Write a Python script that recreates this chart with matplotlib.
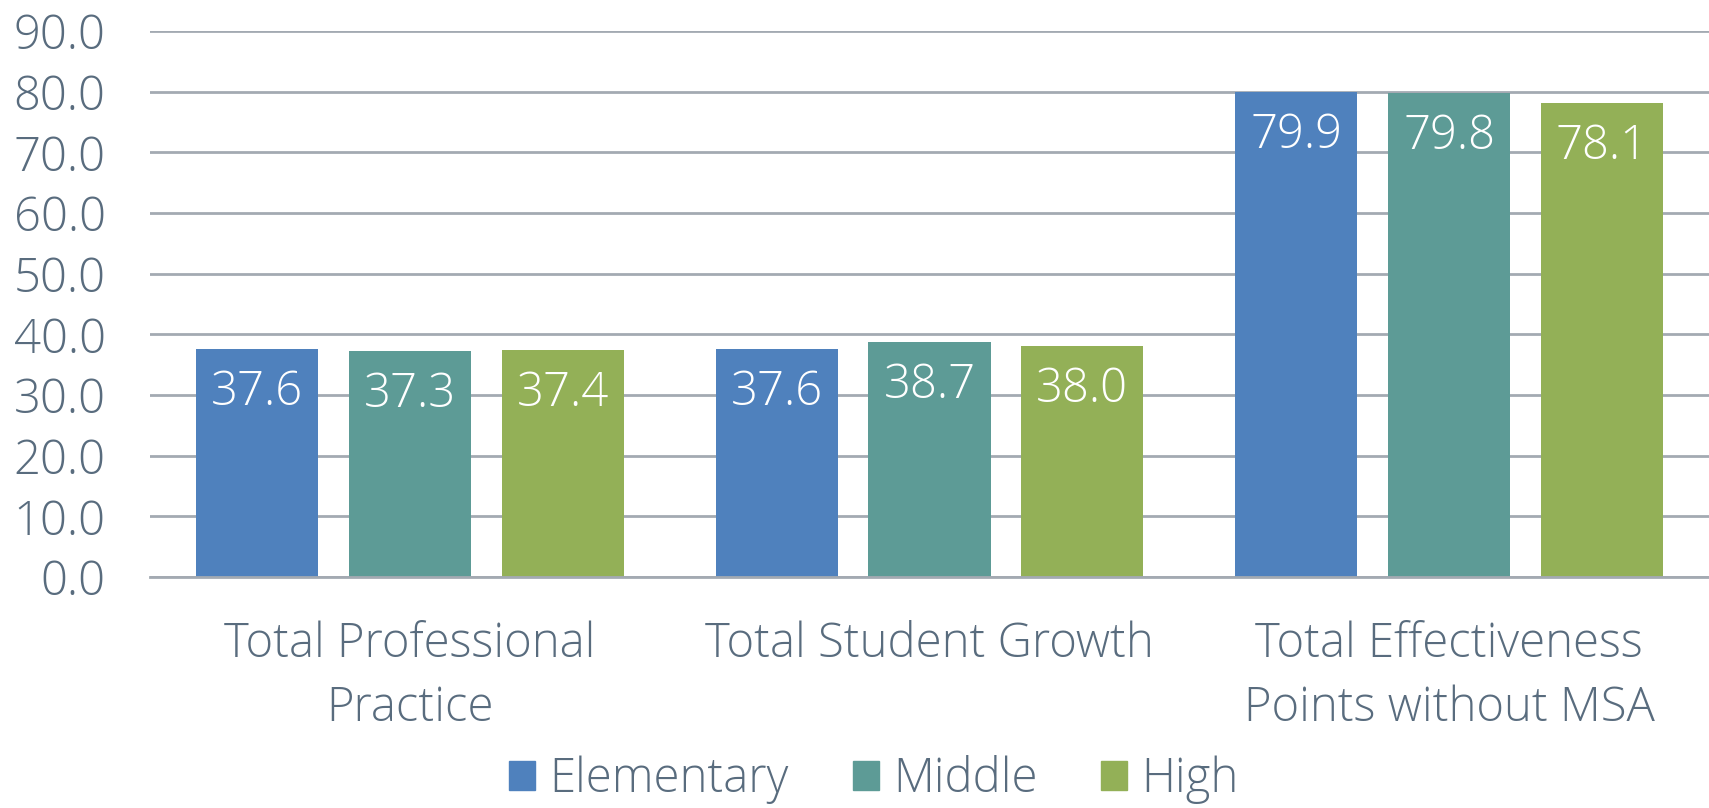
import matplotlib
matplotlib.use("Agg")
import matplotlib.pyplot as plt
import matplotlib.patches as patches
import numpy as np

categories = ["Total Professional\nPractice", "Total Student Growth",
              "Total Effectiveness\nPoints without MSA"]
series_names = ["Elementary", "Middle", "High"]
elementary = [37.6, 37.6, 79.9]
middle = [37.3, 38.7, 79.8]
high = [37.4, 38.0, 78.1]
y_ticks = [0, 10, 20, 30, 40, 50, 60, 70, 80, 90]

colors = ["#4F81BD", "#5D9B96", "#93B057"]
text_color = "#596C7E"
grid_color = "#A3AAB2"

plt.rcParams['font.family'] = ['Open Sans', 'DejaVu Sans']
plt.rcParams['font.weight'] = 'light'

fig = plt.figure(figsize=(17.09, 8.08), dpi=100)
ax = fig.add_axes([150/1709, 1 - 577/808, 1 - 150/1709, (577 - 31)/808])

x = np.arange(len(categories))
bar_w = 0.235
step = 0.294
for i, (name, vals) in enumerate(zip(series_names, [elementary, middle, high])):
    bars = ax.bar(x + (i - 1) * step, vals, width=bar_w, color=colors[i],
                  label=name, zorder=3)
    for b, v in zip(bars, vals):
        ax.annotate(f"{v:.1f}", (b.get_x() + b.get_width() / 2, v),
                    xytext=(0, -31.5), textcoords="offset points",
                    ha="center", va="center", color="white", fontsize=34,
                    zorder=4)

ax.set_xlim(-0.5, 2.5)
ax.set_ylim(0, 90)
ax.set_yticks(y_ticks)
ax.set_yticklabels([f"{t:.1f}" for t in y_ticks])
ax.set_xticks(x)
ax.set_xticklabels(categories, linespacing=1.44)
ax.tick_params(axis="y", length=0, pad=32, labelsize=34, labelcolor=text_color)
ax.tick_params(axis="x", length=0, pad=31, labelsize=34, labelcolor=text_color)

ax.grid(axis="y", color=grid_color, linewidth=2, zorder=0)
for side in ["top", "right", "left"]:
    ax.spines[side].set_visible(False)
ax.spines["bottom"].set_color(grid_color)
ax.spines["bottom"].set_linewidth(2)
ax.spines["bottom"].set_zorder(5)

handles = [patches.Patch(color=c) for c in colors]
fig.legend(handles, series_names, loc="center", bbox_to_anchor=(874/1709, 1 - 780/808),
           ncol=3, frameon=False, fontsize=34, labelcolor=text_color,
           handlelength=0.55, handleheight=0.55, handletextpad=0.3,
           columnspacing=1.35, borderpad=0)

fig.savefig("out.png", dpi=100, facecolor="white")
